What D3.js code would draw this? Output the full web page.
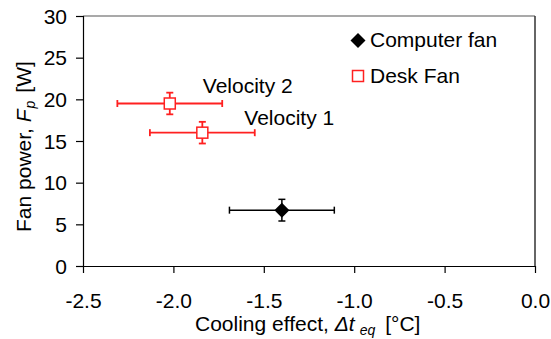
<!DOCTYPE html>
<meta charset="utf-8">
<style>
  body { margin: 0; background: #fff; }
  text { font-family: "Liberation Sans", Arial, sans-serif; fill: #000; }
</style>
<body>
<script src="https://cdn.jsdelivr.net/npm/d3@7"></script>
<script>

// values
var seriesNames = ["Computer fan", "Desk Fan"];

var computerX    = [-1.40];
var computerY    = [6.7];
var computerXErr = [0.29];
var computerYErr = [1.3];

var deskX      = [-1.84, -2.02];
var deskY      = [16.0, 19.5];
var deskXErr   = [0.29, 0.29];
var deskYErr   = [1.3, 1.3];
var deskLabels = ["Velocity 1", "Velocity 2"];

var xTicks = [-2.5, -2.0, -1.5, -1.0, -0.5, 0.0];
var yTicks = [0, 5, 10, 15, 20, 25, 30];

const width = 551, height = 339;
var plotLeft = 83, plotRight = 535, plotTop = 16, plotBottom = 266;
var fontSize = "21px";

var xScale = d3.scaleLinear().domain([-2.5, 0]).range([plotLeft, plotRight]);
var yScale = d3.scaleLinear().domain([0, 30]).range([plotBottom, plotTop]);

var svg = d3.select("body").append("svg")
  .attr("width", width)
  .attr("height", height);

// plot area frame (top and right)
svg.append("line")
  .attr("x1", plotLeft).attr("x2", plotRight).attr("y1", plotTop).attr("y2", plotTop)
  .attr("stroke", "#8c8c8c").attr("stroke-width", 1.5);
svg.append("line")
  .attr("x1", plotRight).attr("x2", plotRight).attr("y1", plotTop).attr("y2", plotBottom)
  .attr("stroke", "#333").attr("stroke-width", 1.5);

// axes (plain hyphen for the minus, as in the picture)
var fmtX = d => d.toFixed(1);
var xAxis = d3.axisBottom(xScale).tickValues(xTicks).tickSize(7).tickFormat(fmtX);
var yAxis = d3.axisLeft(yScale).tickValues(yTicks).tickSize(7).tickFormat(d3.format("d"));

var gx = svg.append("g").attr("transform", `translate(0,${plotBottom})`).call(xAxis);
var gy = svg.append("g").attr("transform", `translate(${plotLeft},0)`).call(yAxis);

[gx, gy].forEach(g => {
  g.select(".domain").attr("stroke", "#000").attr("stroke-width", 1.2);
  g.selectAll(".tick line").attr("stroke", "#000").attr("stroke-width", 1.2);
  g.selectAll(".tick text")
    .style("font-family", "'Liberation Sans', Arial, sans-serif")
    .style("font-size", fontSize)
    .attr("fill", "#000");
});
gx.select(".domain").attr("d", `M${plotLeft},0.5H${plotRight}`);
gy.select(".domain").attr("d", `M0.5,${plotBottom}V${plotTop}`);
gx.selectAll(".tick text").attr("y", 27).attr("dy", "0.71em");
gy.selectAll(".tick text").attr("x", -16).attr("dy", "0.34em");

// axis titles
var xt = svg.append("text")
  .attr("x", 195).attr("y", 331)
  .style("font-size", fontSize);
xt.append("tspan").text("Cooling effect, ");
xt.append("tspan").style("font-style", "italic").text("\u0394t");
xt.append("tspan").style("font-style", "italic").style("font-size", "14px")
  .attr("dx", 5).attr("dy", 4).text("eq");
xt.append("tspan").attr("dy", -4).attr("dx", 10).text("[\u00B0C]");

var yt = svg.append("text")
  .attr("transform", "translate(31,232) rotate(-90)")
  .style("font-size", fontSize);
yt.append("tspan").text("Fan power, ");
yt.append("tspan").style("font-style", "italic").text("F");
yt.append("tspan").style("font-style", "italic").style("font-size", "14px")
  .attr("dx", 1).attr("dy", 4).text("p");
yt.append("tspan").attr("dy", -4).attr("dx", 8).text("[W]");

// error bars
function errorBars(xs, ys, xe, ye, color, sw) {
  var g = svg.append("g").attr("stroke", color).attr("stroke-width", sw);
  var cap = 3.5;
  xs.forEach((x, i) => {
    var cx = xScale(x), cy = yScale(ys[i]);
    var x0 = xScale(x - xe[i]), x1 = xScale(x + xe[i]);
    var y0 = yScale(ys[i] - ye[i]), y1 = yScale(ys[i] + ye[i]);
    g.append("line").attr("x1", x0).attr("x2", x1).attr("y1", cy).attr("y2", cy);
    g.append("line").attr("x1", x0).attr("x2", x0).attr("y1", cy - cap).attr("y2", cy + cap);
    g.append("line").attr("x1", x1).attr("x2", x1).attr("y1", cy - cap).attr("y2", cy + cap);
    g.append("line").attr("x1", cx).attr("x2", cx).attr("y1", y0).attr("y2", y1);
    g.append("line").attr("x1", cx - cap).attr("x2", cx + cap).attr("y1", y0).attr("y2", y0);
    g.append("line").attr("x1", cx - cap).attr("x2", cx + cap).attr("y1", y1).attr("y2", y1);
  });
}

errorBars(computerX, computerY, computerXErr, computerYErr, "#000", 1.5);
errorBars(deskX, deskY, deskXErr, deskYErr, "#ff2020", 1.8);

var diamond = "M0,-7.5L7.5,0L0,7.5L-7.5,0Z";

svg.selectAll(".computer")
  .data(computerX.map((x, i) => [x, computerY[i]]))
  .enter().append("path")
  .attr("class", "computer")
  .attr("d", diamond)
  .attr("transform", d => `translate(${xScale(d[0])},${yScale(d[1])})`)
  .attr("fill", "#000");

svg.selectAll(".desk")
  .data(deskX.map((x, i) => [x, deskY[i]]))
  .enter().append("rect")
  .attr("class", "desk")
  .attr("x", d => xScale(d[0]) - 5.5)
  .attr("y", d => yScale(d[1]) - 5.5)
  .attr("width", 11).attr("height", 11)
  .attr("fill", "#fff")
  .attr("stroke", "#ff2020").attr("stroke-width", 1.5);

// point labels
var labelOffsets = [[42, -8], [33, -11]];
svg.selectAll(".vlabel")
  .data(deskLabels)
  .enter().append("text")
  .attr("class", "vlabel")
  .attr("x", (d, i) => xScale(deskX[i]) + labelOffsets[i][0])
  .attr("y", (d, i) => yScale(deskY[i]) + labelOffsets[i][1])
  .style("font-size", fontSize)
  .text(d => d);

// legend
var legend = svg.append("g").attr("transform", "translate(358,40.5)");
legend.append("path").attr("d", diamond).attr("fill", "#000");
legend.append("text").attr("x", 12).attr("y", 6.5).style("font-size", fontSize).text(seriesNames[0]);
legend.append("rect").attr("x", -5.5).attr("y", 30).attr("width", 11).attr("height", 11)
  .attr("fill", "#fff").attr("stroke", "#ff2020").attr("stroke-width", 1.5);
legend.append("text").attr("x", 12).attr("y", 42.5).style("font-size", fontSize).text(seriesNames[1]);

</script>
</body>
